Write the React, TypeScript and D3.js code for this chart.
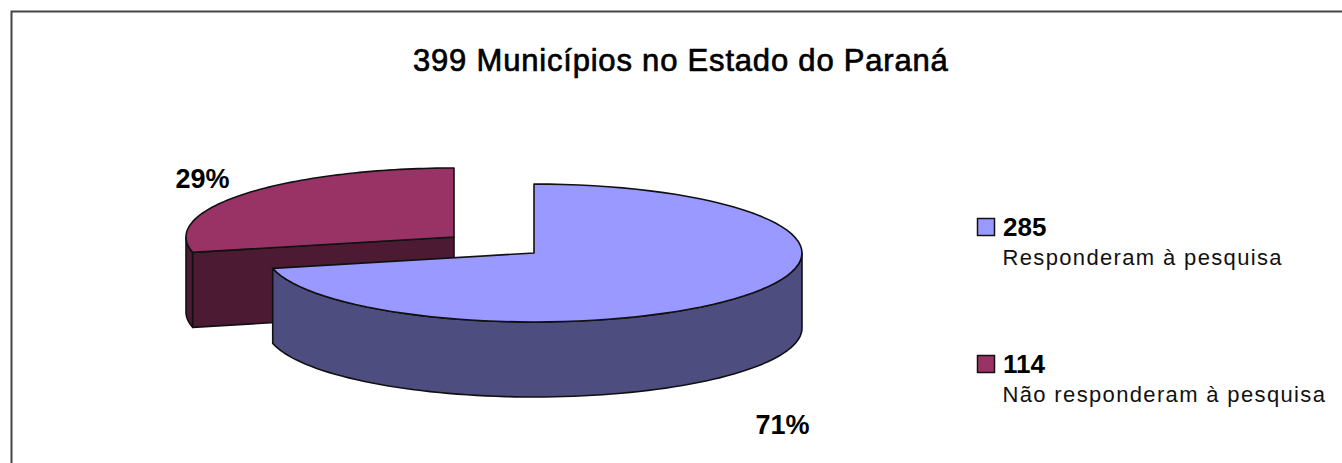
import React from "react";
import * as d3 from "d3";

const categories = ["Responderam à pesquisa", "Não responderam à pesquisa"];
const counts = [285, 114];
const percentLabels = ["71%", "29%"];
const topColors = ["#9999ff", "#993366"];
const sideColors = ["#4d4d80", "#4d1a33"];
const title = "399 Municípios no Estado do Paraná";

const RX = 268;
const RY = 69;
const DEPTH = 75;
const centers = [
  { x: 534, y: 253 },
  { x: 454, y: 237 },
];

const slices = d3.pie<number>().sort(null)(counts);
const lineGen = d3.line<[number, number]>().curve(d3.curveLinear);

function pt(c: { x: number; y: number }, t: number, dy = 0): [number, number] {
  return [c.x + RX * Math.sin(t), c.y - RY * Math.cos(t) + dy];
}
function arcPts(c: { x: number; y: number }, a: number, b: number, dy = 0) {
  const n = 80;
  return d3.range(n + 1).map((i) => pt(c, a + ((b - a) * i) / n, dy));
}
const STROKE = "#111";

export default function App() {
  const blue = slices[0];
  const red = slices[1];
  const cb = centers[0];
  const cr = centers[1];

  const redTop = lineGen([[cr.x, cr.y], ...arcPts(cr, red.startAngle, red.endAngle)])! + "Z";
  const redCut = lineGen([
    [cr.x, cr.y],
    pt(cr, red.startAngle),
    pt(cr, red.startAngle, DEPTH),
    [cr.x, cr.y + DEPTH],
  ])! + "Z";
  const redOuterEnd = (3 * Math.PI) / 2;
  const redOuter = lineGen([
    ...arcPts(cr, red.startAngle, redOuterEnd),
    ...arcPts(cr, red.startAngle, redOuterEnd, DEPTH).reverse(),
  ])! + "Z";

  const blueTop = lineGen([[cb.x, cb.y], ...arcPts(cb, blue.startAngle, blue.endAngle)])! + "Z";
  const blueSide = lineGen([
    ...arcPts(cb, Math.PI / 2, blue.endAngle),
    ...arcPts(cb, Math.PI / 2, blue.endAngle, DEPTH).reverse(),
  ])! + "Z";

  const font = "'Liberation Sans', Arial, sans-serif";
  const legendTop = [218, 355];

  return (
    <svg
      width={1342}
      height={463}
      style={{ position: "absolute", left: 0, top: 0, background: "#fff", fontFamily: font }}
    >
      <rect x={0} y={0} width={1342} height={463} fill="#ffffff" />
      <path d="M11.5 463V11.5H1342" fill="none" stroke="#444" strokeWidth={2} />
      <text x={413} y={71} fontSize={31} letterSpacing={0.8} fill="#000" stroke="#000" strokeWidth={0.7}>
        {title}
      </text>

      <g stroke={STROKE} strokeWidth={1.6} strokeLinejoin="round">
        <path d={redOuter} fill={sideColors[1]} />
        <path d={redCut} fill={sideColors[1]} />
        <path d={redTop} fill={topColors[1]} />
        <path d={blueSide} fill={sideColors[0]} />
        <path d={blueTop} fill={topColors[0]} />
      </g>

      <text x={202.5} y={188} textAnchor="middle" fontSize={27} fontWeight={700} fill="#000">
        {percentLabels[1]}
      </text>
      <text x={782.5} y={434} textAnchor="middle" fontSize={27} fontWeight={700} fill="#000">
        {percentLabels[0]}
      </text>

      {categories.map((cat, i) => (
        <g key={cat}>
          <rect x={977.5} y={legendTop[i] + 0.5} width={17} height={17} fill={topColors[i]} stroke="#111" strokeWidth={1.5} />
          <text x={1003} y={legendTop[i] + 18} fontSize={26} fontWeight={700} fill="#000">
            {counts[i]}
          </text>
          <text x={1002.5} y={legendTop[i] + 47} fontSize={22} letterSpacing={1.35} fill="#111">
            {cat}
          </text>
        </g>
      ))}
    </svg>
  );
}
